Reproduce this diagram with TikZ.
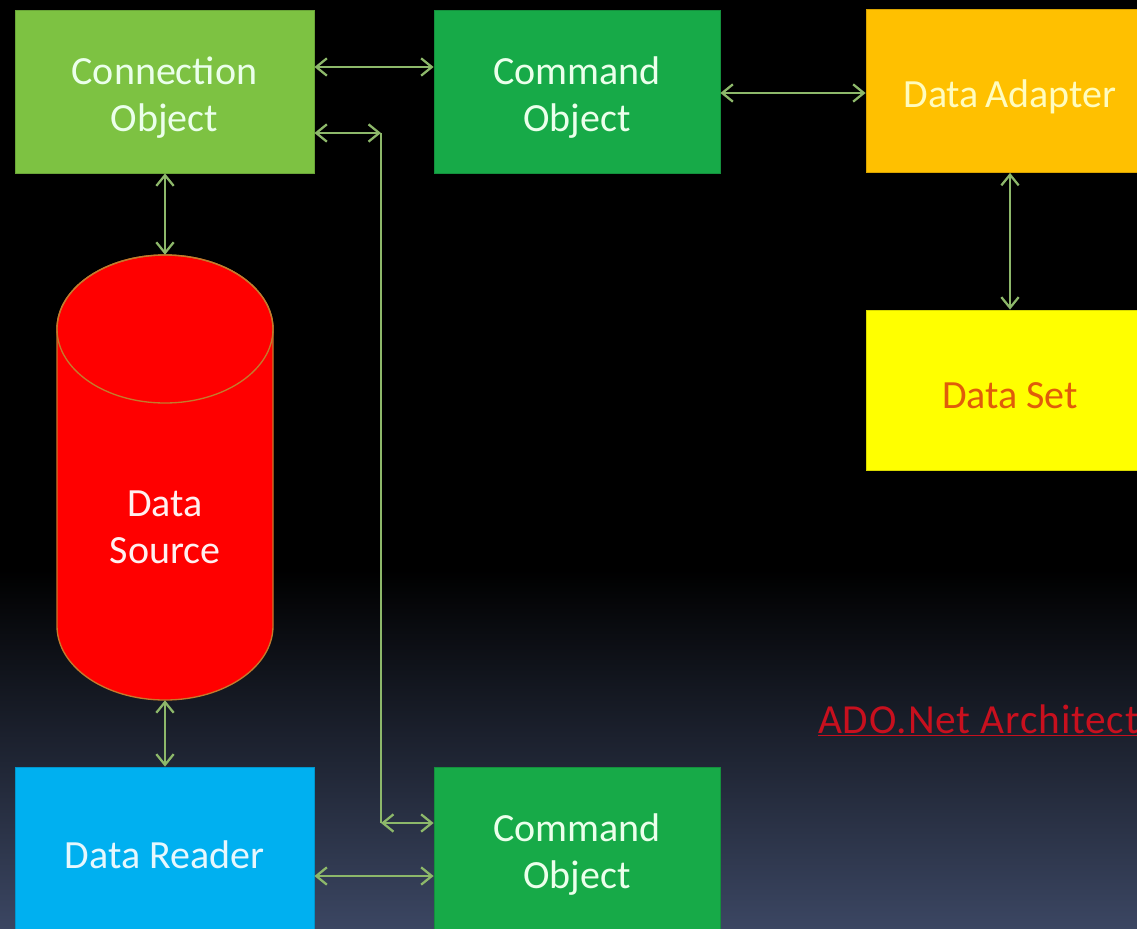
\documentclass[tikz,border=0pt]{standalone}
\usepackage{fontspec}
\setmainfont{Carlito}
\newfontfamily\capfont[LetterSpace=2]{Carlito}
\usetikzlibrary{arrows.meta}

\definecolor{connfill}{HTML}{7DC242}
\definecolor{cmdfill}{HTML}{17AA48}
\definecolor{adapterfill}{HTML}{FFC000}
\definecolor{setfill}{HTML}{FFFF00}
\definecolor{readerfill}{HTML}{00B0F0}
\definecolor{srcfill}{HTML}{FF0000}
\definecolor{srcedge}{HTML}{C47A2C}
\definecolor{linkcol}{HTML}{8DB86A}
\definecolor{bgblue}{HTML}{3B4662}
\definecolor{titlered}{HTML}{C8101E}
\definecolor{settext}{HTML}{E05C0A}

\tikzset{
  block/.style={rectangle, inner sep=0pt, draw=#1!85!black, line width=0.6pt, fill=#1},
  wide/.style={minimum width=224.25pt, minimum height=122.25pt},
  mid/.style={minimum width=214.5pt, minimum height=122.25pt},
  right/.style={minimum width=216pt, minimum height=122.25pt},
  lbl/.style={inner sep=0pt, align=center, yshift=-4.5pt,
    font=\fontsize{30}{35}\selectfont},
  link/.style={draw=linkcol, line width=1.7pt,
    {Straight Barb[length=8pt,width=13pt]}-{Straight Barb[length=8pt,width=13pt]}},
  plainlink/.style={draw=linkcol, line width=1.7pt}
}

\begin{document}
\begin{tikzpicture}[x=0.75pt,y=-0.75pt]
  \useasboundingbox (0,0) rectangle (1137,928);
  \clip (0,0) rectangle (1137,928);

  % backdrop: black, fading into slate blue towards the bottom
  \fill[black] (0,0) rectangle (1137,928);
  \shade[top color=black, bottom color=bgblue] (0,570) rectangle (1137,928);

  % boxes
  \node[block=connfill, wide,
    label={[lbl, name=connText, text=green!8!white]center:Connection\\Object}]
    (conn) at (164.5,91.5) {};
  \node[block=cmdfill, mid,
    label={[lbl, name=cmdAText, text=green!8!white]center:Command\\Object}]
    (cmdA) at (577,91.5) {};
  \node[block=adapterfill, right,
    label={[lbl, name=adapterText, text=yellow!25!white]center:Data\,Adapter}]
    (adapter) at (1010,91) {};
  \node[block=setfill, right, minimum height=120pt,
    label={[lbl, name=setText, text=settext]center:Data Set}]
    (dataset) at (1010,390) {};
  \node[block=readerfill, wide,
    label={[lbl, name=readerText, text=cyan!10!white]center:Data Reader}]
    (reader) at (164.5,848.5) {};
  \node[block=cmdfill, mid,
    label={[lbl, name=cmdBText, text=green!8!white]center:Command\\Object}]
    (cmdB) at (577,848.5) {};

  % data source cylinder
  \filldraw[fill=srcfill, draw=srcedge, line width=1pt]
    (57,329) -- (57,626)
    arc[start angle=180, end angle=360, x radius=81pt, y radius=55.5pt]
    -- (273,329)
    arc[start angle=0, end angle=180, x radius=81pt, y radius=55.5pt] -- cycle;
  \draw[draw=srcedge, line width=1pt] (165,329) ellipse [x radius=81pt, y radius=55.5pt];
  \node[minimum width=162pt, minimum height=333.75pt, inner sep=0pt] (src) at (165,477.5) {};
  \node[lbl, yshift=0pt, text=red!6!white] (srcText) at (165,521) {Data\\Source};

  % connectors
  \draw[link] (conn.east |- 0,67) -- (cmdA.west |- 0,67);
  \draw[link] (cmdA.east |- 0,93) -- (adapter.west |- 0,93);
  \draw[link] (adapter.south) -- (dataset.north);
  \draw[link] (conn.south -| src.north) -- (src.north);
  \draw[link] (src.south) -- (reader.north -| src.south);
  \draw[link] (reader.east |- 0,876) -- (cmdB.west |- 0,876);

  \coordinate (bendA) at (381,133);
  \coordinate (bendB) at (381,823);
  \draw[link] (conn.east |- bendA) -- (bendA);
  \draw[plainlink] (bendA) -- (bendB);
  \draw[link] (bendB) -- (cmdB.west |- bendB);

  % caption
  \node[anchor=base west, inner sep=0pt, text=titlered, font=\capfont\fontsize{31}{36}\selectfont]
    (caption) at (818,733) {\underline{ADO.Net Architecture}};
\end{tikzpicture}
\end{document}
